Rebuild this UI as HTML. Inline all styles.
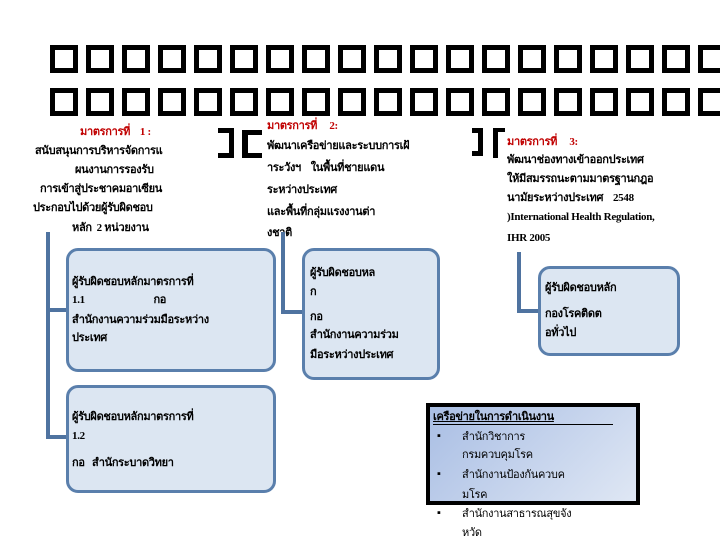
<!DOCTYPE html>
<html><head><meta charset="utf-8"><style>
body{margin:0;width:720px;height:540px;background:#fff;position:relative;overflow:hidden;font-family:"Liberation Serif","DejaVu Sans",serif;}
.t{position:absolute;white-space:nowrap;font-size:11px;font-weight:bold;color:#000;line-height:14px;letter-spacing:-0.3px}
.r{color:#c00000}
.sq{position:absolute;width:18px;height:18px;border:5px solid #000}
.box{position:absolute;background:#dce6f2;border:3px solid #5a7fac;border-radius:12px;box-sizing:border-box}
.ln{position:absolute;background:#4f73a0}
.bk{position:absolute;background:#000}
</style></head><body>
<div id="sq"></div>
<script>
var h='';for(var r=0;r<2;r++){for(var i=0;i<19;i++){h+='<div class="sq" style="left:'+(50+i*36)+'px;top:'+(r?88:45)+'px"></div>';}}
document.getElementById('sq').innerHTML=h;
</script>

<div class="bk" style="left:218px;top:128px;width:16px;height:5px"></div>
<div class="bk" style="left:229px;top:128px;width:5px;height:30px"></div>
<div class="bk" style="left:218px;top:153px;width:16px;height:5px"></div>
<div class="bk" style="left:242px;top:130px;width:6px;height:28px"></div>
<div class="bk" style="left:242px;top:130px;width:20px;height:5px"></div>
<div class="bk" style="left:242px;top:153px;width:20px;height:5px"></div>

<div class="bk" style="left:472px;top:128px;width:11px;height:5px"></div>
<div class="bk" style="left:478px;top:128px;width:5px;height:28px"></div>
<div class="bk" style="left:472px;top:151px;width:11px;height:5px"></div>
<div class="bk" style="left:493px;top:128px;width:5px;height:30px"></div>
<div class="bk" style="left:493px;top:128px;width:12px;height:4px"></div>

<div class="t r" style="left:80px;top:125px">มาตรการที่ &nbsp;&nbsp;&nbsp;1 :</div>
<div class="t" style="left:35px;top:144px">สนับสนุนการบริหารจัดการแ</div>
<div class="t" style="left:75px;top:163px">ผนงานการรองรับ</div>
<div class="t" style="left:40px;top:182px">การเข้าสู่ประชาคมอาเซียน</div>
<div class="t" style="left:33px;top:201px">ประกอบไปด้วยผู้รับผิดชอบ</div>
<div class="t" style="left:72px;top:221px">หลัก &nbsp;2 หน่วยงาน</div>

<div class="t r" style="left:267px;top:119px">มาตรการที่ &nbsp;&nbsp;&nbsp;&nbsp;2:</div>
<div class="t" style="left:267px;top:139px">พัฒนาเครือข่ายและระบบการเฝ้</div>
<div class="t" style="left:267px;top:161px">าระวังฯ &nbsp;&nbsp;&nbsp;ในพื้นที่ชายแดน</div>
<div class="t" style="left:267px;top:183px">ระหว่างประเทศ</div>
<div class="t" style="left:267px;top:205px">และพื้นที่กลุ่มแรงงานต่า</div>
<div class="t" style="left:267px;top:226px">งชาติ</div>

<div class="t r" style="left:507px;top:135px">มาตรการที่ &nbsp;&nbsp;&nbsp;&nbsp;3:</div>
<div class="t" style="left:507px;top:153px">พัฒนาช่องทางเข้าออกประเทศ</div>
<div class="t" style="left:507px;top:172px">ให้มีสมรรถนะตามมาตรฐานกฎอ</div>
<div class="t" style="left:507px;top:191px">นามัยระหว่างประเทศ &nbsp;&nbsp;&nbsp;2548</div>
<div class="t" style="left:507px;top:210px">)International Health Regulation,</div>
<div class="t" style="left:507px;top:231px">IHR 2005</div>

<div class="ln" style="left:46px;top:232px;width:4px;height:207px"></div>
<div class="ln" style="left:46px;top:308px;width:22px;height:4px"></div>
<div class="ln" style="left:46px;top:435px;width:22px;height:4px"></div>
<div class="ln" style="left:281px;top:232px;width:4px;height:82px"></div>
<div class="ln" style="left:281px;top:310px;width:23px;height:4px"></div>
<div class="ln" style="left:517px;top:252px;width:4px;height:61px"></div>
<div class="ln" style="left:517px;top:309px;width:23px;height:4px"></div>

<div class="box" style="left:66px;top:248px;width:210px;height:124px"></div>
<div class="t" style="left:72px;top:275px">ผู้รับผิดชอบหลักมาตรการที่</div>
<div class="t" style="left:72px;top:293px">1.1 &nbsp;&nbsp;&nbsp;&nbsp;&nbsp;&nbsp;&nbsp;&nbsp;&nbsp;&nbsp;&nbsp;&nbsp;&nbsp;&nbsp;&nbsp;&nbsp;&nbsp;&nbsp;&nbsp;&nbsp;&nbsp;&nbsp;&nbsp;&nbsp;&nbsp;&nbsp;&nbsp;กอ</div>
<div class="t" style="left:72px;top:313px">สำนักงานความร่วมมือระหว่าง</div>
<div class="t" style="left:72px;top:331px">ประเทศ</div>

<div class="box" style="left:302px;top:248px;width:138px;height:132px"></div>
<div class="t" style="left:310px;top:266px">ผู้รับผิดชอบหล</div>
<div class="t" style="left:310px;top:285px">ก</div>
<div class="t" style="left:310px;top:310px">กอ</div>
<div class="t" style="left:310px;top:328px">สำนักงานความร่วม</div>
<div class="t" style="left:310px;top:348px">มือระหว่างประเทศ</div>

<div class="box" style="left:66px;top:385px;width:210px;height:108px"></div>
<div class="t" style="left:72px;top:410px">ผู้รับผิดชอบหลักมาตรการที่</div>
<div class="t" style="left:72px;top:429px">1.2</div>
<div class="t" style="left:72px;top:456px">กอ &nbsp;&nbsp;สำนักระบาดวิทยา</div>

<div class="box" style="left:538px;top:266px;width:142px;height:90px"></div>
<div class="t" style="left:545px;top:281px">ผู้รับผิดชอบหลัก</div>
<div class="t" style="left:545px;top:307px">กองโรคติดต</div>
<div class="t" style="left:545px;top:326px">อทั่วไป</div>

<div style="position:absolute;left:426px;top:403px;width:214px;height:102px;box-sizing:border-box;border:4px solid #000;background:linear-gradient(135deg,#a9bee4,#dfe7f4)"></div>
<div class="t" style="left:433px;top:410px;text-decoration:underline">เครือข่ายในการดำเนินงาน</div>
<div style="position:absolute;left:433px;top:424px;width:180px;height:1px;background:#000"></div>
<div class="t" style="left:437px;top:429px;font-weight:normal">▪</div>
<div class="t" style="left:462px;top:430px;font-weight:normal">สำนักวิชาการ</div>
<div class="t" style="left:462px;top:448px;font-weight:normal">กรมควบคุมโรค</div>
<div class="t" style="left:437px;top:467px;font-weight:normal">▪</div>
<div class="t" style="left:462px;top:468px;font-weight:normal">สำนักงานป้องกันควบค</div>
<div class="t" style="left:462px;top:488px;font-weight:normal">มโรค</div>
<div class="t" style="left:437px;top:506px;font-weight:normal">▪</div>
<div class="t" style="left:462px;top:507px;font-weight:normal">สำนักงานสาธารณสุขจัง</div>
<div class="t" style="left:462px;top:526px;font-weight:normal">หวัด</div>
</body></html>
